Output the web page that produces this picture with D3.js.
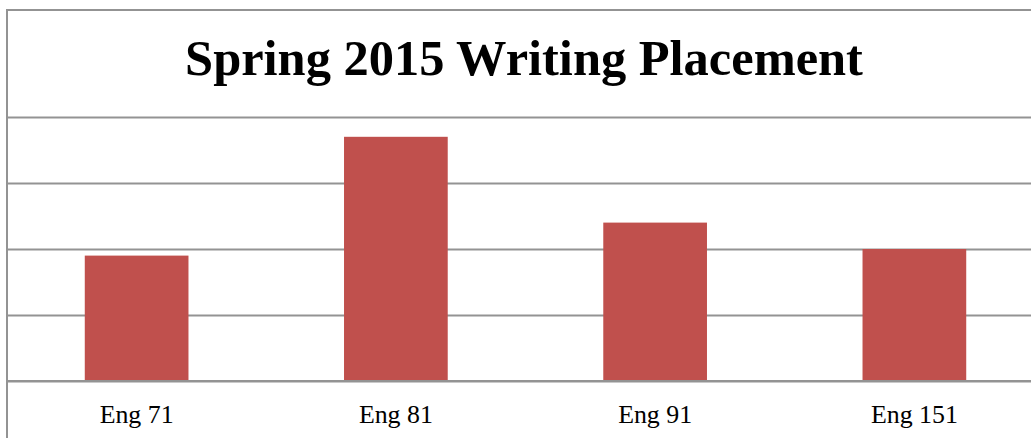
<!DOCTYPE html>
<html>
<head>
<meta charset="utf-8">
<script src="https://cdn.jsdelivr.net/npm/d3@7"></script>
<style>
  body { margin: 0; background: #fff; }
  svg { display: block; }
</style>
</head>
<body>
<div id="chart"></div>
<script>
// data
const categories = ["Eng 71", "Eng 81", "Eng 91", "Eng 151"];
const students = [19, 37, 24, 20];
const yTicks = [0, 10, 20, 30, 40];

const W = 1031, H = 438;
const frame = {left: 7, top: 10};
const plot = {left: 7, right: 1044, top: 117, bottom: 381};

const svg = d3.select("#chart").append("svg")
    .attr("width", W)
    .attr("height", H);

// chart frame (right and bottom edges fall outside the picture)
svg.append("rect")
    .attr("x", frame.left)
    .attr("y", frame.top)
    .attr("width", 1100)
    .attr("height", 500)
    .attr("fill", "#fff")
    .attr("stroke", "#939393")
    .attr("stroke-width", 2);

const x = d3.scaleBand()
    .domain(categories)
    .range([plot.left, plot.right])
    .paddingInner(0.6)
    .paddingOuter(0.3);

const y = d3.scaleLinear()
    .domain([0, 40])
    .range([plot.bottom, plot.top]);

// horizontal gridlines, no tick labels
svg.append("g")
    .attr("transform", `translate(${plot.left},0)`)
    .call(d3.axisLeft(y).tickValues(yTicks).tickSize(-(plot.right - plot.left)).tickFormat(""))
    .call(g => g.select(".domain").remove())
    .selectAll("line")
        .attr("stroke", "#939393")
        .attr("stroke-width", 2);

// bars
svg.selectAll("rect.bar")
    .data(categories)
    .join("rect")
        .attr("class", "bar")
        .attr("x", d => x(d))
        .attr("y", (d, i) => y(students[i]))
        .attr("width", x.bandwidth())
        .attr("height", (d, i) => y(0) - y(students[i]))
        .attr("fill", "#C0504D");

// redraw baseline over bars
svg.append("line")
    .attr("x1", plot.left).attr("x2", plot.right)
    .attr("y1", y(0)).attr("y2", y(0))
    .attr("stroke", "#939393")
    .attr("stroke-width", 2);

// category labels
const xAxis = svg.append("g")
    .attr("transform", `translate(0,${plot.bottom})`)
    .call(d3.axisBottom(x).tickSize(0).tickPadding(0));
xAxis.select(".domain").remove();
const labels = xAxis.selectAll("text")
    .attr("fill", "#000")
    .attr("font-family", "'Liberation Serif', 'DejaVu Serif', serif")
    .attr("font-size", 24)
    .attr("dy", 0)
    .attr("y", 42);
// fit label size so "Eng 71" is ~74px wide like the original
const w0 = labels.nodes()[0].getComputedTextLength();
labels.attr("font-size", 24 * 74 / w0);

// title
const title = svg.append("text")
    .attr("x", 524)
    .attr("y", 75)
    .attr("text-anchor", "middle")
    .attr("font-family", "'Liberation Serif', 'DejaVu Serif', serif")
    .attr("font-weight", "bold")
    .attr("font-size", 48)
    .attr("fill", "#000")
    .text("Spring 2015 Writing Placement");
const tw = title.node().getComputedTextLength();
title.attr("font-size", 48 * 678 / tw);
</script>
</body>
</html>
